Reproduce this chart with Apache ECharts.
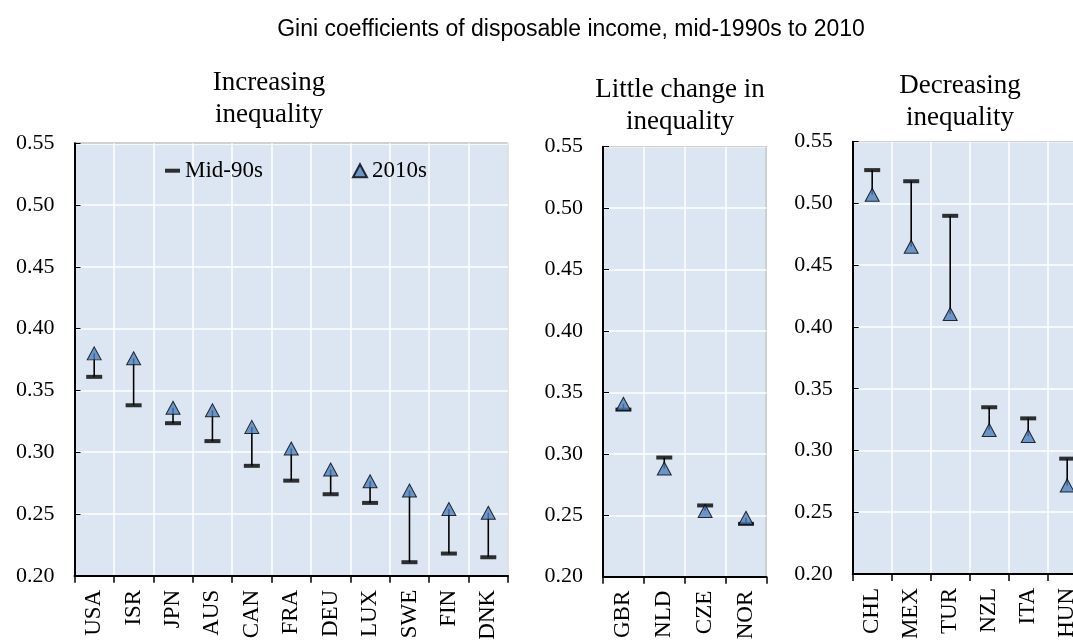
<!DOCTYPE html>
<html>
<head>
<meta charset="utf-8">
<script src="https://cdn.jsdelivr.net/npm/echarts@6/dist/echarts.min.js"></script>
<style>
html,body{margin:0;padding:0;background:#fff;}
#chart{width:1073px;height:640px;}
</style>
</head>
<body>
<div id="chart"></div>
<script>
// ---- data ----
var cats1 = ['USA','ISR','JPN','AUS','CAN','FRA','DEU','LUX','SWE','FIN','DNK'];
var mid1  = [0.361, 0.338, 0.3235, 0.309, 0.289, 0.277, 0.266, 0.259, 0.211, 0.218, 0.215];
var new1  = [0.380, 0.376, 0.336, 0.334, 0.3205, 0.303, 0.286, 0.2765, 0.269, 0.254, 0.251];

var cats2 = ['GBR','NLD','CZE','NOR'];
var mid2  = [0.336, 0.297, 0.258, 0.243];
var new2  = [0.3407, 0.288, 0.2535, 0.248];

var cats3 = ['CHL','MEX','TUR','NZL','ITA','HUN'];
var mid3  = [0.527, 0.518, 0.490, 0.335, 0.326, 0.2934];
var new3  = [0.507, 0.465, 0.4105, 0.3166, 0.3117, 0.2717];

var yTicks = [0.20, 0.25, 0.30, 0.35, 0.40, 0.45, 0.50, 0.55];

var mainTitle = 'Gini coefficients of disposable income, mid-1990s to 2010';
var panelTitles = ['Increasing\ninequality', 'Little change in\ninequality', 'Decreasing\ninequality'];
var legendNames = ['Mid-90s', '2010s'];

// ---- layout ----
var SERIF = '"Liberation Serif", "Times New Roman", serif';
var SANS = '"Liberation Sans", Arial, sans-serif';
var grids = [
  {left: 74.5, top: 143.3, width: 433.5, height: 432.5},
  {left: 603, top: 146.7, width: 163.4, height: 430},
  {left: 852.7, top: 141.7, width: 234, height: 432.3}
];
var panels = [
  {cats: cats1, mid: mid1, nw: new1},
  {cats: cats2, mid: mid2, nw: new2},
  {cats: cats3, mid: mid3, nw: new3}
];
var titlePos = [[269, 98.8], [680, 106.4], [960, 102.1]];

var chart = echarts.init(document.getElementById('chart'), null, {renderer: 'canvas'});

var option = {
  animation: false,
  backgroundColor: '#ffffff',
  grid: [], xAxis: [], yAxis: [], series: [],
  legend: [
    {
      data: [legendNames[0]], left: 165, top: 158.7, padding: 0, itemWidth: 15, itemHeight: 4,
      textStyle: {fontFamily: SERIF, fontSize: 23, color: '#000', lineHeight: 24},
      selectedMode: false
    },
    {
      data: [legendNames[1]], left: 352, top: 158.7, padding: 0, itemWidth: 14, itemHeight: 13,
      textStyle: {fontFamily: SERIF, fontSize: 23, color: '#000', lineHeight: 24},
      selectedMode: false
    }
  ],
  graphic: []
};

option.graphic.push({
  type: 'text', x: 571, y: 29.5, silent: true,
  style: {text: mainTitle, fill: '#000', font: '23px ' + SANS, textAlign: 'center', textVerticalAlign: 'middle'}
});

panels.forEach(function (p, i) {
  var g = grids[i];
  option.grid.push({
    left: g.left, top: g.top, width: g.width, height: g.height,
    outerBoundsMode: 'none',
    show: true, backgroundColor: '#DCE6F2', borderColor: '#222', borderWidth: 1, containLabel: false
  });
  option.xAxis.push({
    type: 'category', gridIndex: i, data: p.cats, boundaryGap: true,
    axisLine: {show: true, lineStyle: {color: '#000', width: 2}},
    axisTick: {show: true, inside: false, length: 7, lineStyle: {color: '#000', width: 1.5}},
    splitLine: {show: true, lineStyle: {color: '#ffffff', width: 1.5}},
    axisLabel: {rotate: 90, margin: 14, fontFamily: SERIF, fontSize: 23, color: '#000', interval: 0}
  });
  option.yAxis.push({
    type: 'value', gridIndex: i, min: yTicks[0], max: yTicks[yTicks.length - 1], interval: 0.05,
    axisLine: {show: true, lineStyle: {color: '#000', width: 2}},
    axisTick: {show: true, inside: true, length: 6, lineStyle: {color: '#000', width: 1}},
    splitLine: {show: true, lineStyle: {color: '#ffffff', width: 1.5}},
    axisLabel: {margin: 20, fontFamily: SERIF, fontSize: 22, color: '#000',
      formatter: function (v) { return v.toFixed(2); }}
  });
  var stemData = p.cats.map(function (c, k) { return [k, p.mid[k], p.nw[k]]; });
  option.series.push({
    type: 'custom', name: 'stem' + i, xAxisIndex: i, yAxisIndex: i, z: 2,
    data: stemData,
    renderItem: function (params, api) {
      var a = api.coord([api.value(0), api.value(1)]);
      var b = api.coord([api.value(0), api.value(2)]);
      return {type: 'line', shape: {x1: a[0], y1: a[1], x2: b[0], y2: b[1]},
        style: {stroke: '#000', lineWidth: 1.6}};
    }
  });
  option.series.push({
    type: 'scatter', name: legendNames[0], xAxisIndex: i, yAxisIndex: i, z: 3,
    symbol: 'rect', symbolSize: [16, 4],
    itemStyle: {color: '#000'},
    data: p.mid
  });
  option.series.push({
    type: 'scatter', name: legendNames[1], xAxisIndex: i, yAxisIndex: i, z: 4,
    symbol: 'triangle', symbolSize: [14, 13],
    itemStyle: {color: '#4F81BD', borderColor: '#000', borderWidth: 1},
    data: p.nw
  });
  option.graphic.push({
    type: 'text', x: titlePos[i][0], y: titlePos[i][1], silent: true,
    style: {text: panelTitles[i], fill: '#000', font: '27px ' + SERIF, lineHeight: 32,
      textAlign: 'center', textVerticalAlign: 'middle'}
  });
});

chart.setOption(option);
</script>
</body>
</html>
